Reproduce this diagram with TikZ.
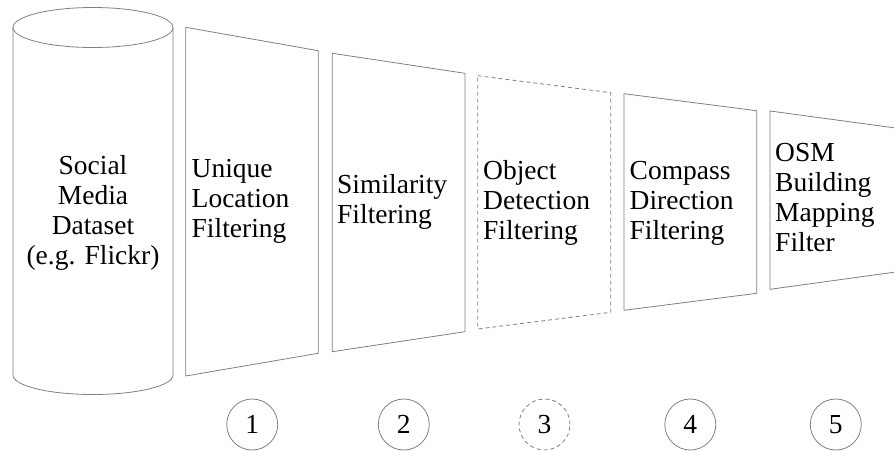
\documentclass[tikz,border=0pt]{standalone}
\usepackage{fontspec}
\setmainfont{Liberation Serif}
\tikzset{
  edge/.style={draw=black!50, line width=0.8pt, line join=miter},
  optional/.style={edge, dash pattern=on 4pt off 3pt},
  label/.style={inner sep=0pt, align=left, font=\fontsize{27.5}{30}\selectfont},
  stepnum/.style={circle, edge, minimum size=51pt, inner sep=0pt,
                  font=\fontsize{27.5}{30}\selectfont},
}
\begin{document}
\begin{tikzpicture}[x=1pt, y=-1pt]
  \useasboundingbox (0,0) rectangle (894,450);
  \clip (0,0) rectangle (894,450);

  % data source cylinder
  \coordinate (cylTop) at (93,27.5);
  \coordinate (cylBot) at (93,375);
  \draw[edge] (cylTop) ellipse [x radius=80, y radius=20];
  \draw[edge] (13,27.5) -- (13,375) arc [start angle=180, end angle=0, x radius=80, y radius=19.5] -- (173,27.5);
  % multi-line nodes: base anchor sits on the last line
  \node[label, align=center, anchor=base] (src) at (93,264)
    {Social\\Media\\Dataset\\(e.g. Flickr)};

  % filter stages
  \draw[edge] (185.7,27.3) -- (318.3,50.7) -- (318.3,353.3) -- (185.7,376) -- cycle;
  \draw[edge] (332.3,53.3) -- (465,73.3) -- (465,331.7) -- (332.3,351.7) -- cycle;
  \draw[optional] (477.7,75.7) -- (610.7,92.7) -- (610.7,312.3) -- (477.7,329) -- cycle;
  \draw[edge] (624,93.7) -- (756.7,110.7) -- (756.7,293.3) -- (624,310.3) -- cycle;
  \draw[edge] (770,111) -- (903,129) -- (903,271) -- (770,289.3) -- cycle;

  \node[label, anchor=base west] (f1) at (191.5,237) {Unique\\Location\\Filtering};
  \node[label, anchor=base west] (f2) at (337,223) {Similarity\\Filtering};
  \node[label, anchor=base west] (f3) at (483,239) {Object\\Detection\\Filtering};
  \node[label, anchor=base west] (f4) at (629.5,239) {Compass\\Direction\\Filtering};
  \node[label, anchor=base west] (f5) at (775,251) {OSM\\Building\\Mapping\\Filter};

  % stage numbers
  \node[stepnum] (n1) at (252.2,424.5) {1};
  \node[stepnum] (n2) at (403.8,424.5) {2};
  \node[stepnum, optional] (n3) at (544.5,424.5) {3};
  \node[stepnum] (n4) at (690.3,424.5) {4};
  \node[stepnum] (n5) at (835.8,424.5) {5};
\end{tikzpicture}
\end{document}
